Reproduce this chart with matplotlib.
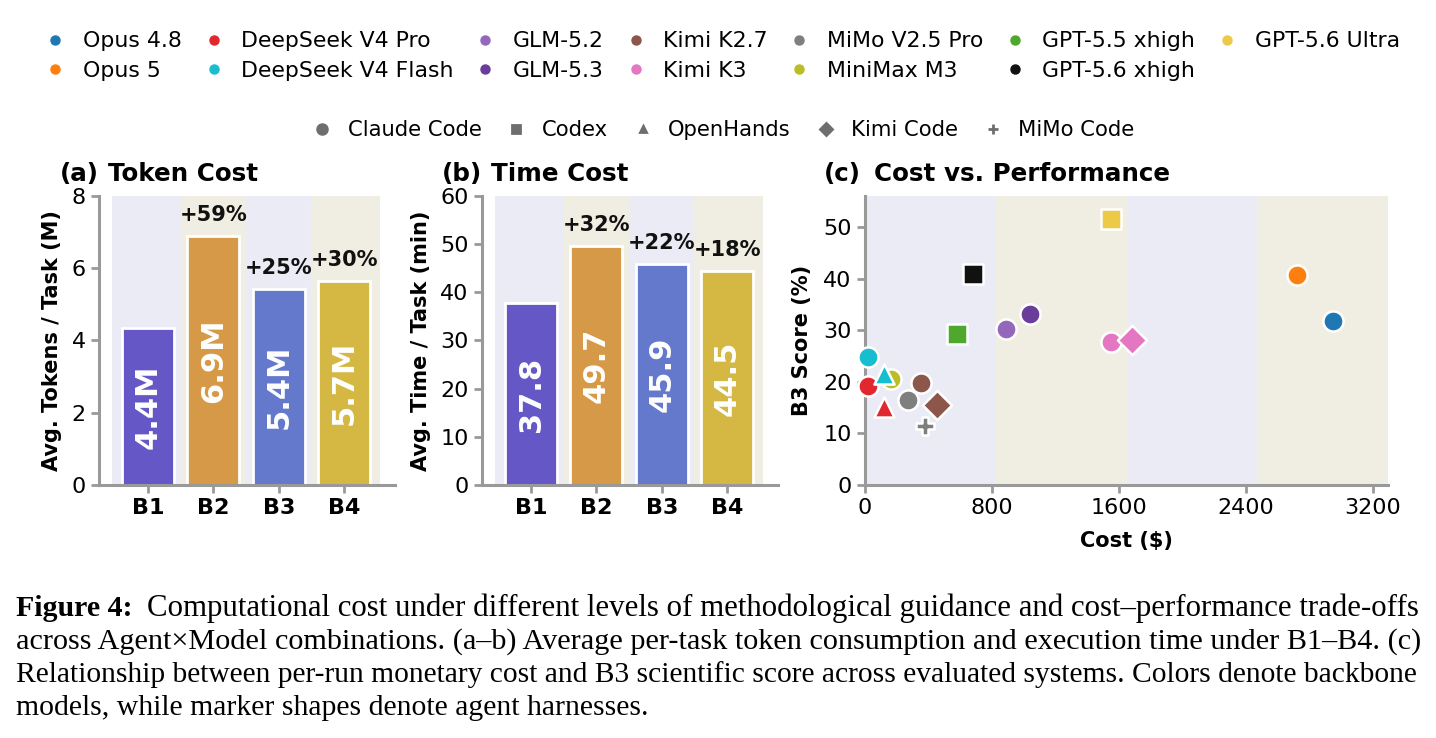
import matplotlib
matplotlib.use("Agg")
import matplotlib.pyplot as plt
from matplotlib.lines import Line2D

W, H = 1436, 738
C_BAND1, C_BAND2, C_SPINE = "#eaebf4", "#f0eee2", "#999999"

baselines = ["B1", "B2", "B3", "B4"]
bar_colors = ["#6558c6", "#d69947", "#6478cc", "#d4b843"]
tokens = [4.35, 6.9, 5.42, 5.65]
token_labels = ["4.4M", "6.9M", "5.4M", "5.7M"]
token_gain = ["", "+59%", "+25%", "+30%"]
times = [37.8, 49.7, 45.9, 44.5]
time_labels = ["37.8", "49.7", "45.9", "44.5"]
time_gain = ["", "+32%", "+22%", "+18%"]

models = ["Opus 4.8", "Opus 5", "DeepSeek V4 Pro", "DeepSeek V4 Flash", "GLM-5.2", "GLM-5.3",
          "Kimi K2.7", "Kimi K3", "MiMo V2.5 Pro", "MiniMax M3", "GPT-5.5 xhigh", "GPT-5.6 xhigh", "GPT-5.6 Ultra"]
model_colors = ["#1f77b4", "#ff7f0e", "#e0282e", "#17becf", "#9467bd", "#6a3d9a",
                "#8c564b", "#e377c2", "#7f7f7f", "#bcbd22", "#4fa82e", "#111111", "#edc948"]
agents = ["Claude Code", "Codex", "OpenHands", "Kimi Code", "MiMo Code"]
agent_markers = ["o", "s", "^", "D", "P"]
legend_markers = ["o", "s", "^", "D", "+"]
legend_sizes = [7, 6.2, 5, 5.8, 7]

pt_model = ["Opus 4.8", "Opus 5", "GPT-5.6 Ultra", "GPT-5.6 xhigh", "GPT-5.5 xhigh", "GLM-5.2", "GLM-5.3",
            "Kimi K3", "Kimi K3", "DeepSeek V4 Pro", "MiniMax M3", "DeepSeek V4 Flash", "DeepSeek V4 Flash",
            "Kimi K2.7", "MiMo V2.5 Pro", "Kimi K2.7", "DeepSeek V4 Pro", "MiMo V2.5 Pro"]
pt_agent = ["Claude Code", "Claude Code", "Codex", "Codex", "Codex", "Claude Code", "Claude Code",
            "Claude Code", "Kimi Code", "Claude Code", "Claude Code", "Claude Code", "OpenHands",
            "Claude Code", "Claude Code", "Kimi Code", "OpenHands", "MiMo Code"]
pt_cost = [2948, 2721, 1548, 683, 578, 886, 1040, 1548, 1680, 17, 162, 17, 120, 351, 272, 454, 120, 380]
pt_score = [31.8, 40.7, 51.6, 40.9, 29.3, 30.2, 33.1, 27.7, 28.1, 19.2, 20.5, 24.8, 21.5, 19.7, 16.5, 15.5, 15.2, 11.4]

caption_lines = [
    "Computational cost under different levels of methodological guidance and cost\u2013performance trade-offs",
    "across Agent\u00d7Model combinations. (a\u2013b) Average per-task token consumption and execution time under B1\u2013B4. (c)",
    "Relationship between per-run monetary cost and B3 scientific score across evaluated systems. Colors denote backbone",
    "models, while marker shapes denote agent harnesses.",
]

fig = plt.figure(figsize=(W / 100, H / 100), dpi=100)


def box(l, r, t, b):
    return [l / W, 1 - b / H, (r - l) / W, (b - t) / H]


def style(ax):
    for s in ("top", "right"):
        ax.spines[s].set_visible(False)
    for s in ("left", "bottom"):
        ax.spines[s].set_color(C_SPINE)
        ax.spines[s].set_linewidth(2.2)
    ax.tick_params(length=6, width=2, color=C_SPINE, labelsize=16)


def title(tag, tag_px, name, name_px):
    kw = dict(fontsize=17.7, fontweight="bold", va="center")
    fig.text(tag_px / W, 1 - 174 / H, tag, **kw)
    fig.text(name_px / W, 1 - 174 / H, name, **kw)


def bars(ax, vals, labels, gains, ymax, yticks, ylabel):
    style(ax)
    ax.set_xlim(-0.75, 3.78)
    ax.set_ylim(0, ymax)
    edges = [-0.55, 0.5, 1.5, 2.5, 3.55]
    for i in range(4):
        ax.axvspan(edges[i], edges[i + 1], color=C_BAND1 if i % 2 == 0 else C_BAND2, lw=0, zorder=0)
    rects = ax.bar(range(4), vals, width=0.8, color=bar_colors, edgecolor="white", linewidth=2, zorder=2)
    for r, v, lab, g in zip(rects, vals, labels, gains):
        xc = r.get_x() + r.get_width() / 2
        ax.text(xc, v / 2, lab, rotation=90, ha="center", va="center", color="white",
                fontsize=22, fontweight="bold", zorder=3)
        if g:
            ax.annotate(g, (xc, v), xytext=(0, 15), textcoords="offset points", ha="center", va="center",
                        fontsize=15, fontweight="bold", color="#111111", zorder=3, annotation_clip=False)
    ax.set_xticks(range(4), baselines, fontweight="bold")
    ax.set_yticks(yticks)
    ax.set_ylabel(ylabel, fontsize=15, fontweight="bold", labelpad=7)


ax_a = fig.add_axes(box(99, 395, 196, 485))
bars(ax_a, tokens, token_labels, token_gain, 8, [0, 2, 4, 6, 8], "Avg. Tokens / Task (M)")
title("(a)", 60, "Token Cost", 108)
ax_b = fig.add_axes(box(482, 778, 196, 485))
bars(ax_b, times, time_labels, time_gain, 60, range(0, 61, 10), "Avg. Time / Task (min)")
title("(b)", 442, "Time Cost", 491)

ax_c = fig.add_axes(box(865, 1388, 196, 485))
style(ax_c)
xmax = 3295
ax_c.set_xlim(0, xmax)
ax_c.set_ylim(0, 56)
for i in range(4):
    ax_c.axvspan(i * xmax / 4, (i + 1) * xmax / 4, color=C_BAND1 if i % 2 == 0 else C_BAND2, lw=0, zorder=0)
cmap = dict(zip(models, model_colors))
mmap = dict(zip(agents, agent_markers))
sizes = {"Claude Code": 210, "Codex": 190, "OpenHands": 210, "Kimi Code": 220, "MiMo Code": 170}
for m, a, x, y in zip(pt_model, pt_agent, pt_cost, pt_score):
    ax_c.scatter(x, y, s=sizes[a], marker=mmap[a], color=cmap[m], edgecolor="white", linewidth=1.8,
                 zorder=3, clip_on=False)
ax_c.set_xticks([0, 800, 1600, 2400, 3200])
ax_c.set_yticks(range(0, 51, 10))
ax_c.set_xlabel("Cost ($)", fontsize=15, fontweight="bold", labelpad=9)
ax_c.set_ylabel("B3 Score (%)", fontsize=15, fontweight="bold", labelpad=8)
title("(c)", 824, "Cost vs. Performance", 874)

h1 = [Line2D([], [], marker="o", ls="", color=c, ms=6.5) for c in model_colors]
fig.legend(h1, models, ncol=7, frameon=False, fontsize=15.8, loc="center", bbox_to_anchor=(721 / W, 1 - 56 / H),
           columnspacing=0.85, handletextpad=0.65, labelspacing=0.43, handlelength=1.2)
h2 = [Line2D([], [], marker=m, ls="", color="#6e6e6e", ms=s, mew=2)
      for m, s in zip(legend_markers, legend_sizes)]
fig.legend(h2, agents, ncol=5, frameon=False, fontsize=15.2, loc="center", bbox_to_anchor=(722 / W, 1 - 130 / H),
           columnspacing=1.05, handletextpad=0.6, handlelength=1.2)

cap = {"family": "Liberation Serif", "va": "center", "color": "black"}
caption_sizes = [22.23, 21.78, 21.28, 21.43]
caption_x = [147, 16, 16, 16]
caption_y = [608, 642, 675, 708]
fig.text(16 / W, 1 - 608 / H, "Figure 4:", fontweight="bold", fontsize=21.5, **cap)
for t, fs, xx, yy in zip(caption_lines, caption_sizes, caption_x, caption_y):
    fig.text(xx / W, 1 - yy / H, t, fontsize=fs, **cap)

fig.savefig("out.png", dpi=100)
